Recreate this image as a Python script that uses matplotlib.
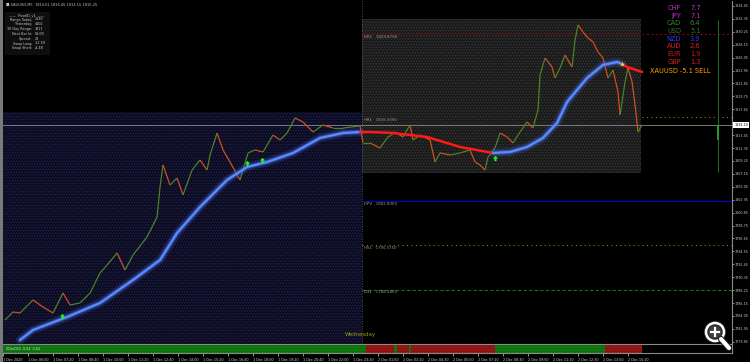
import numpy as np
import matplotlib
matplotlib.use("Agg")
import matplotlib.pyplot as plt
from matplotlib.collections import LineCollection
from matplotlib.patches import Rectangle, Circle
from matplotlib.transforms import blended_transform_factory

# ---------------------------
# Data (bar index = 5 min bars from 1 Dec 04:40)
# ---------------------------
bar_idx = [1.3, 6.4, 10.9, 19.2, 25.6, 32, 38.4, 42.9, 49.3, 55.7,
           62.1, 66.6, 73, 78.1, 83.2, 92.2, 98.6, 100.5, 102.4, 106.9,
           111.4, 115.2, 121, 126.1, 130.6, 132.5, 137, 140.8, 145.3, 151.7,
           156.8, 161.3, 166.4, 172.8, 177.3, 181.8, 186.9, 192, 198.4, 204.8,
           211.2, 217.6, 228.5, 230.4, 234.9, 241.3, 245.8, 250.9, 256, 260.5,
           262.4, 266.9, 273.3, 276.5, 279.7, 286.1, 292.5, 298.9, 302.1, 305.3,
           308.5, 310.4, 314.9, 318.1, 322.6, 326.4, 330.9, 335.4, 339.2, 342.4,
           343.7, 346.9, 351.4, 353.3, 356.5, 359.7, 364.2, 366.1, 368, 371.2,
           374.4, 377.6, 380.8, 384, 387.2, 390.4, 393.6, 394.9, 398.1, 400,
           402.6, 404.5, 406.4, 409]
closes = [1783.39, 1784.69, 1784.53, 1786.65, 1785.51, 1784.53, 1787.78, 1785.83, 1786.16, 1787.78,
          1791.04, 1792.34, 1794.29, 1791.52, 1793.96, 1796.89, 1800.14, 1805.02, 1808.60, 1805.34,
          1806.48, 1803.72, 1807.78, 1809.41, 1807.78, 1810.22, 1813.80, 1811.04, 1809.08, 1806.16,
          1810.55, 1811.04, 1810.71, 1813.47, 1812.66, 1813.80, 1816.24, 1815.59, 1813.96, 1815.10,
          1814.61, 1814.61, 1814.94, 1812.17, 1812.17, 1811.36, 1812.99, 1813.96, 1813.15, 1815.10,
          1812.66, 1813.47, 1812.66, 1809.08, 1810.55, 1810.22, 1810.55, 1811.04, 1809.08, 1808.60,
          1807.78, 1809.90, 1811.36, 1813.80, 1813.15, 1812.17, 1813.96, 1815.59, 1814.61, 1817.54,
          1823.23, 1825.99, 1824.53, 1822.74, 1824.37, 1826.48, 1824.53, 1828.92, 1831.36, 1830.22,
          1829.25, 1828.60, 1826.97, 1825.99, 1822.74, 1824.04, 1820.47, 1816.73, 1822.09, 1824.37,
          1822.09, 1818.35, 1813.96, 1815.10]

ma_idx = [10.9, 19.2, 41, 62.1, 83.2, 100.5, 111.4, 126.1, 143.4, 156.2,
          169, 185.6, 202.9, 217.6, 228.5, 234.9, 249.6, 271.4, 292.5, 313.6,
          324.5, 335.4, 345.6, 354.6, 361, 373.8, 384, 393, 396.2, 399.4, 409]
ma_val = [1780.14, 1781.77, 1783.88, 1786.16, 1789.90, 1793.15, 1797.54, 1801.77, 1806.16, 1808.27,
          1809.08, 1810.55, 1812.99, 1813.80, 1813.96, 1813.96, 1813.80, 1813.15, 1811.52, 1810.55,
          1810.71, 1811.52, 1812.99, 1815.43, 1818.84, 1822.74, 1824.86, 1825.34, 1825.02, 1824.53, 1823.72]
ma_state = ['up'] * 15 + ['dn'] * 5 + ['up'] * 9 + ['dn'] * 2

buy_idx = [37.8, 156.2, 165.8, 314.9]
buy_val = [1784.04, 1808.92, 1809.41, 1809.73]
sell_idx = [396.2]
sell_val = [1825.02]

day_start = 230
prev_high = 1817.21
today_high, today_low, today_end = 1832.3, 1807.3, 408
bid = 1815.10

pivot_names = ['DR1', 'HR1', 'DPV', 'HS1', 'DS1']
pivot_vals = [1829.87, 1816.335, 1802.80, 1795.575, 1788.34]
pivot_colors = ['#8b0000', '#808000', '#0000c8', '#808000', '#008000']
pivot_styles = [(0, (2, 2)), (0, (1, 3)), '-', (0, (1, 3)), (0, (3, 2))]

price_ticks = [1834.45, 1832.35, 1830.25, 1828.15, 1826.05, 1823.95, 1821.85, 1819.75, 1817.65,
               1813.45, 1811.35, 1809.25, 1807.15, 1805.05, 1802.95, 1800.85, 1798.75, 1796.65,
               1794.55, 1792.45, 1790.35, 1788.25, 1786.15, 1784.05, 1781.95, 1779.85]

time_ticks = [16 * k for k in range(26)]
time_labels = ['1 Dec 2020', '1 Dec 06:00', '1 Dec 07:20', '1 Dec 08:40', '1 Dec 10:00',
               '1 Dec 11:20', '1 Dec 12:40', '1 Dec 14:00', '1 Dec 15:20', '1 Dec 16:40',
               '1 Dec 18:00', '1 Dec 19:20', '1 Dec 20:40', '1 Dec 22:00', '1 Dec 23:20',
               '2 Dec 01:50', '2 Dec 03:10', '2 Dec 04:30', '2 Dec 05:50', '2 Dec 07:10',
               '2 Dec 08:30', '2 Dec 09:50', '2 Dec 11:10', '2 Dec 12:30', '2 Dec 13:50',
               '2 Dec 15:10']

strip_breaks = [0, 232, 250, 252, 260, 261, 315, 385, 409]
strip_state = ['up', 'dn', 'up', 'dn', 'up', 'dn', 'up', 'dn']

currencies = ['CHF', 'JPY', 'CAD', 'USD', 'NZD', 'AUD', 'EUR', 'GBP']
strength = [7.7, 7.1, 6.4, 5.1, 3.9, 2.6, 1.9, 1.3]
cur_colors = ['#c030c0', '#c030c0', '#2e8b2e', '#2e7a2e', '#2040ff', '#e02020', '#d01818', '#e02020']

info_labels = ['Range Today:', 'Yesterday:', '30 Day Range:', 'Next Bar In:', 'Spread:',
               'Swap Long:', 'Swap Short:']
info_values = ['2020', '4102', '3811', '01:09', '24', '-12.59', '-4.48']

ind_idx = 457.6
ind_range = (1807.46, 1832.17)
ind_body = (1812.66, 1815.10)

# ---------------------------
# Figure
# ---------------------------
W, H = 750, 362
plt.rcParams['hatch.linewidth'] = 0.6
fig = plt.figure(figsize=(7.5, 3.62), dpi=100, facecolor='black')


def px_box(x0, y0, x1, y1):
    return [x0 / W, 1 - y1 / H, (x1 - x0) / W, (y1 - y0) / H]


ax = fig.add_axes(px_box(3, 1, 732, 344))
ax.set_facecolor('black')
ax.set_xlim(0, 466.56)
ax.set_ylim(1779.49, 1835.26)
ymin = ax.get_ylim()[0]

# previous day range and today's box
ax.add_patch(Rectangle((0, ymin), day_start, prev_high - ymin, facecolor='#0b0b22',
                       edgecolor='#23234c', hatch='......', lw=0, zorder=0))
ax.add_patch(Rectangle((day_start, today_low), today_end - day_start, today_high - today_low,
                       facecolor='#1a1a1a', edgecolor='#383838', hatch='......', lw=0, zorder=1))

# pivot levels
for name, val, col, ls in zip(pivot_names, pivot_vals, pivot_colors, pivot_styles):
    z = 0.5 if name == 'HR1' else 2
    ax.hlines(val, day_start, ax.get_xlim()[1], colors=col, linestyles=ls, lw=0.8, zorder=z)
    ax.text(day_start + 1, val - 0.15, f"{name}   {val:.4f}", color='#9a9a9a', fontsize=2.8,
            va='top', ha='left', zorder=3)

ax.axhline(bid, color='#8c8c8c', lw=0.6, zorder=2)
ax.axvline(day_start, color='#6a6a6a', lw=0.6, ls=(0, (1, 2)), zorder=2)

# price bars
x = np.array(bar_idx)
c = np.array(closes)
segs = [[(x[k - 1], c[k - 1]), (x[k], c[k])] for k in range(1, len(x))]
cols = ['#4a8228' if c[k] >= c[k - 1] else '#d0501c' for k in range(1, len(x))]
ax.add_collection(LineCollection(segs, colors=cols, linewidths=0.9, zorder=4))

# moving average with glow
mi = np.array(ma_idx)
mv = np.array(ma_val)
start = 0
for k in range(1, len(mi) + 1):
    if k == len(mi) or ma_state[k] != ma_state[start]:
        s0 = max(start - 1, 0)
        xs, ys = mi[s0:k], mv[s0:k]
        if ma_state[start] == 'up':
            ax.plot(xs, ys, color='#3a58c8', lw=6, alpha=0.25, solid_capstyle='round', zorder=5)
            ax.plot(xs, ys, color='#4a70e0', lw=3.2, alpha=0.45, solid_capstyle='round', zorder=5)
            ax.plot(xs, ys, color='#5a8cff', lw=1.6, solid_capstyle='round', zorder=6)
        else:
            ax.plot(xs, ys, color='#ff1a1a', lw=1.8, solid_capstyle='round', zorder=6)
        start = k

arrow = [(0, 1), (-1, 0), (-0.4, 0), (-0.4, -1), (0.4, -1), (0.4, 0), (1, 0), (0, 1)]
ax.scatter(buy_idx, buy_val, marker=arrow, s=14, color='#19ff19', zorder=7, lw=0)
ax.scatter(sell_idx, sell_val, marker='*', s=14, color='#ffe020', zorder=7, lw=0)

ax.vlines(ind_idx, *ind_range, colors='#1f6e1f', lw=0.7, zorder=3)
ax.vlines(ind_idx, *ind_body, colors='#2a9a2a', lw=1.4, zorder=3)

ax.text(229, 1781.0, 'Wednesday', color='#9a9a10', fontsize=3.9, ha='center', va='center', zorder=3)

# right price axis
ax.yaxis.tick_right()
ax.set_yticks(price_ticks)
ax.set_yticklabels([f"{p:.2f}" for p in price_ticks])
ax.tick_params(axis='y', labelsize=2.45, colors='#c8c8c8', length=1.5, width=0.5, pad=0.5)
ax.set_xticks([])
for side in ['left', 'top', 'bottom']:
    ax.spines[side].set_visible(False)
ax.spines['right'].set_color('#8a8a8a')
ax.spines['right'].set_linewidth(0.8)
trans = blended_transform_factory(ax.transAxes, ax.transData)
ax.text(1.003, bid, f"{bid:.2f}", transform=trans, fontsize=2.45, color='black', va='center',
        ha='left', zorder=10, bbox=dict(boxstyle='square,pad=0.25', fc='white', ec='none'))

# ---------------------------
# Bottom indicator strip + time axis
# ---------------------------
sa = fig.add_axes(px_box(3, 344, 732, 353))
sa.set_facecolor('black')
sa.set_xlim(ax.get_xlim())
sa.set_ylim(0, 1)
for k, st in enumerate(strip_state):
    x0, x1 = strip_breaks[k], strip_breaks[k + 1]
    fc, ec = ('#0a6e0a', '#1c921c') if st == 'up' else ('#8a1010', '#b42828')
    sa.add_patch(Rectangle((x0, 0.05), x1 - x0, 0.9, facecolor=fc, edgecolor=ec,
                           hatch='......', lw=0))
sa.text(2, 0.5, 'VQssD15 -0.64 -0.64', color='#e0e0e0', fontsize=2.3, va='center')
sa.set_yticks([])
sa.set_xticks(time_ticks)
sa.set_xticklabels(time_labels, ha='left')
sa.tick_params(axis='x', labelsize=2.4, colors='#d0d0d0', length=2.5, width=0.5, pad=0.8)
sa.spines['left'].set_visible(False)
for side in ['top', 'bottom', 'right']:
    sa.spines[side].set_color('#8a8a8a')
    sa.spines[side].set_linewidth(0.8)

# ---------------------------
# Overlays: header, info panel, currency strength, zoom icon
# ---------------------------
fig.text(6 / W, 1 - 5 / H, '\u25a0 XAUUSD,M5  1814.61 1816.45 1814.15 1815.25',
         fontsize=2.6, color='#c0c0c0', va='center')

fig.patches.append(Rectangle((5 / W, 1 - 55 / H), 45 / W, 43 / H, transform=fig.transFigure,
                             facecolor='#0e0e0e', edgecolor='none', zorder=5))
fig.text(27 / W, 1 - 15 / H, '\u2014\u2014  PivotID_v1  \u2014\u2014', fontsize=2.4,
         color='#c8c8c8', ha='center', va='center', zorder=6)
for r, (lab, val) in enumerate(zip(info_labels, info_values)):
    yy = 1 - (19.5 + 4.8 * r) / H
    fig.text(32 / W, yy, lab, fontsize=2.4, color='#c8c8c8', ha='right', va='center', zorder=6)
    fig.text(35 / W, yy, val, fontsize=2.4, color='#c8c8c8', ha='left', va='center', zorder=6)

for r, (cur, val, col) in enumerate(zip(currencies, strength, cur_colors)):
    yy = 1 - (8 + 7.7 * r) / H
    fig.text(681 / W, yy, cur, fontsize=4.8, color=col, ha='right', va='center')
    fig.text(690 / W, yy, f"{val:.1f}", fontsize=4.8, color=col, ha='left', va='center')
fig.text(650 / W, 1 - 71 / H, 'XAUUSD -5.1 SELL', fontsize=4.8, color='#ffa000', ha='left',
         va='center')

ov = fig.add_axes([0, 0, 1, 1], zorder=20)
ov.set_xlim(0, W)
ov.set_ylim(H, 0)
ov.axis('off')
ov.patch.set_alpha(0)
ov.add_patch(Rectangle((0, 0), 2.5, H, facecolor='#7a7a7a', lw=0))
ov.plot([721, 729], [339, 348], color='#222222', lw=4.5, solid_capstyle='round')
ov.plot([721, 729], [339, 348], color='white', lw=3, solid_capstyle='round')
ov.add_patch(Circle((715, 332), 9, facecolor='#3c3c3c', edgecolor='#222222', lw=3.2))
ov.add_patch(Circle((715, 332), 9, facecolor='none', edgecolor='white', lw=1.8))
ov.plot([711, 719], [332, 332], color='white', lw=1.6)
ov.plot([715, 715], [328, 336], color='white', lw=1.6)

fig.savefig('out.png', dpi=100, facecolor='black')
